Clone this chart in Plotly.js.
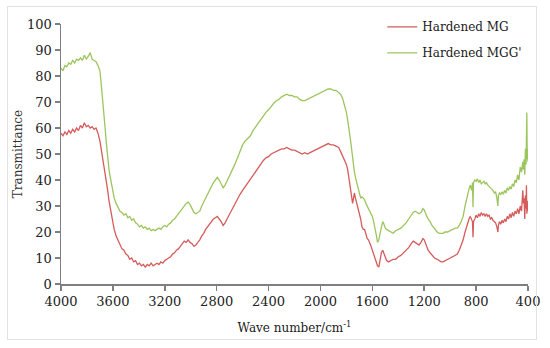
<!DOCTYPE html>
<html>
<head>
<meta charset="utf-8">
<script src="https://cdn.plot.ly/plotly-3.0.1.min.js"></script>
<style>
  html, body { margin: 0; padding: 0; background: #fff; }
  #wrap { position: relative; width: 550px; height: 348px; }
  #chart { position: absolute; left: 0; top: 0; width: 550px; height: 348px; }
  #frame { position: absolute; left: 7px; top: 6px; width: 530px; height: 334px;
           border: 1px solid #e2e2e2; pointer-events: none; box-sizing: border-box; }
</style>
</head>
<body>
<div id="wrap"><div id="chart"></div><div id="frame"></div></div>
<script>
// Wavenumber (cm-1)
const wavenumber = [
 4000,3985,3970,3955,3940,3925,3910,3895,3880,3865,3850,3835,3820,3805,3790,3775,3760,3745,3730,3715,
 3700,3690,3680,3670,3660,3650,3640,3630,3620,3610,3600,3590,3575,3560,3545,3530,3515,3500,3485,3470,
 3455,3440,3425,3410,3395,3380,3365,3350,3335,3320,3305,3290,3275,3260,3245,3230,3215,3200,3185,3170,
 3155,3140,3125,3110,3095,3080,3065,3050,3035,3020,3005,2990,2975,2960,2945,2930,2915,2900,2885,2870,
 2855,2840,2825,2810,2795,2780,2765,2750,2735,2720,2705,2690,2675,2660,2640,2620,2600,2580,2560,2540,
 2520,2500,2480,2460,2440,2420,2400,2380,2360,2340,2320,2300,2280,2260,2240,2220,2200,2180,2160,2140,
 2120,2100,2080,2060,2040,2020,2000,1980,1960,1940,1920,1900,1880,1860,1845,1830,1815,1800,1790,1780,
 1770,1760,1752,1745,1738,1730,1720,1710,1700,1690,1680,1670,1660,1650,1640,1630,1620,1610,1600,1590,
 1580,1570,1560,1550,1540,1530,1520,1510,1500,1490,1475,1460,1440,1420,1400,1380,1360,1340,1320,1300,
 1285,1270,1255,1240,1225,1210,1200,1190,1180,1170,1155,1140,1120,1100,1085,1070,1055,1040,1020,1000,
 980,960,945,930,915,900,885,870,855,845,835,828,824,820,810,800,790,780,770,760,
 750,740,730,720,710,700,690,680,670,660,650,640,632,628,620,610,600,590,580,570,
 560,550,540,530,520,510,500,490,480,470,460,450,440,435,430,425,420,415,412,409,
 406,403,400
];

// Transmittance, Hardened MG (red)
const hardenedMG = [
 58,57,58.5,57.5,59,58,59.5,58.5,60,59,61,60,62,60.5,61,60,60.5,59.5,60,58,
 55,52,49,46,43,40,36,32,29,26,23,21,18.5,17,15,13.5,13,11.5,11,9.5,
 10,8.5,9,7.5,8,7,7.5,6.5,7.5,7,8,7,7.5,8,7.5,8.5,8,9,9.5,10,
 10.5,11.5,12,13,13.5,14.5,15.5,16.5,16,17,16,15.5,14.5,15,16,17,18.5,19.5,21,22,
 23,24,25,25.5,26,25,24,22.5,23.5,25,26.5,28,29.5,31,33,34.5,36,37.5,39,40.5,
 42,43.5,45,46.5,47.5,48.5,49,50,50.5,51,51.5,52,52,52.5,52,51.5,51.5,51,50.5,50,
 50.5,50,50.5,51,51.5,52,52.5,53,53.5,54,53.5,53.5,53,52.5,51,49.5,48,46,44,41,
 38,35,31,33,35,33,31,30,28,25,22,21,21,19,17.5,17,16,14.5,13,11.5,
 10,8,7,6.5,9,12,13,11.5,10,9,8.5,9,9.5,9.5,10.5,11,12,13,14,15.5,
 16.5,16,15.5,15,16,17.5,17,15.5,14,13,12,11,10,9.5,9,8.5,8.5,9,9.5,10,
 10.5,11,11.5,13,15,17,20,23,25,26,25,24,18,24,25,26.5,25.5,27,26,27.5,
 26.5,27,26,27,26,26.5,25,25.5,24.5,24,23.5,22,20,22.5,24,23,24.5,23.5,25,24,
 26,25,27,25.5,27.5,26,28,27,29,27,30,28,36,31,33,25,34,29,38,27,
 32,30,28
];

// Transmittance, Hardened MGG' (green)
const hardenedMGG = [
 83,82,84,83.5,85,84.5,86,85,86.5,86,87,86,88,86.5,87.5,89,86.5,86,85.5,84,
 82,77,72,66,60,54,48,44,41,38,36,33,31,29.5,28,27.5,26.5,27,25.5,26,
 24.5,25,23.5,23,22,22.5,21.5,22,21,21.5,20.5,21,20.5,21,21.5,21,22,22.5,22,23,
 23.5,24.5,25,26,27,28,29,30,31,31.5,30.5,29,27.5,27,27.5,28,30,31.5,33.5,35,
 36.5,38,39,40,41,40,38.5,37,38,39.5,41,42.5,44,46,48.5,51,53.5,55,56,57,
 59,60.5,62,63.5,65,66,67,68.5,69.5,70.5,71,72,72.5,73,72.5,72.5,72,72,71,70.5,
 70.5,71,71.5,72,72.5,73,73.5,74,74.5,75,75,74.5,74.5,73.5,73,71.5,69,66,63,60,
 56,52,48,45,43,41,39,37,35,33,33.5,33,32.5,31,30,29.5,28,27,26,24,
 22,19,16,17,19.5,22,24,23,21.5,21,20.5,20,19.5,20.5,21,21.5,22.5,23.5,25,26.5,
 27.5,28,27.5,27,27.5,29,28.5,27,26,25,24,22.5,21,20,19.5,19.5,19.5,20,20,20.5,
 21,21.5,21.5,22.5,24,26,30,34,36.5,38,36,39,29.5,39,40,39.5,40.5,39,40,38.5,
 39,39.5,38.5,39,38,37.5,37,36.5,36,35,35.5,33,30,34,35,34.5,35.5,34.5,36,35,
 37,36,37.5,36.5,38.5,37.5,40,39,42,40,45,43,47,44,48,42,52,46,60,66,
 48,52,47
];

const fontFam = '"DejaVu Serif", "Liberation Serif", serif';

const traces = [
  { x: wavenumber, y: hardenedMG, type: 'scatter', mode: 'lines', name: 'Hardened MG',
    legendgroup: 'a', line: { color: '#d65c5c', width: 1.3 } },
  { x: wavenumber, y: hardenedMGG, type: 'scatter', mode: 'lines', name: "Hardened MGG'",
    legendgroup: 'b', line: { color: '#9dc55e', width: 1.3 } }
];

const layout = {
  width: 550, height: 348,
  margin: { l: 61, r: 22, t: 24, b: 64 },
  paper_bgcolor: 'rgba(0,0,0,0)', plot_bgcolor: '#fff',
  font: { family: fontFam, size: 13, color: '#222' },
  showlegend: true,
  legend: { x: 0.688, y: 1.045, xanchor: 'left', yanchor: 'top', bgcolor: 'rgba(0,0,0,0)',
            traceorder: 'grouped', tracegroupgap: 7,
            font: { family: fontFam, size: 12, color: '#1a1a1a' } },
  xaxis: {
    range: [4000, 400], tickmode: 'array',
    tickvals: [4000,3600,3200,2800,2400,2000,1600,1200,800,400],
    showgrid: false, zeroline: false, showline: true, linecolor: '#7f7f7f', linewidth: 1.5,
    ticks: 'outside', ticklen: 5, tickcolor: '#7f7f7f', tickwidth: 1.5,
    tickfont: { family: fontFam, size: 13, color: '#222' },
    title: { text: 'Wave number/cm<sup>-1</sup>', font: { family: fontFam, size: 12, color: '#1a1a1a' }, standoff: 15 }
  },
  yaxis: {
    range: [0, 100], dtick: 10,
    showgrid: false, zeroline: false, showline: true, linecolor: '#7f7f7f', linewidth: 1.5,
    ticks: 'outside', ticklen: 5, tickcolor: '#7f7f7f', tickwidth: 1.5,
    tickfont: { family: fontFam, size: 13, color: '#222' },
    title: { text: 'Transmittance', font: { family: fontFam, size: 12, color: '#333' }, standoff: 2 }
  }
};

Plotly.newPlot('chart', traces, layout, { displayModeBar: false, staticPlot: true });
</script>
</body>
</html>
